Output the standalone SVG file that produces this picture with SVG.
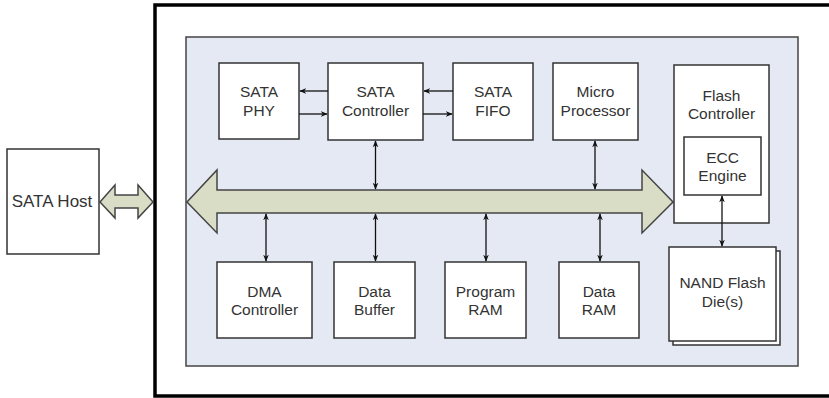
<svg xmlns="http://www.w3.org/2000/svg" width="829" height="398" viewBox="0 0 829 398">
<defs>
<marker id="ah" viewBox="0 0 10 10" refX="9" refY="5" markerWidth="7" markerHeight="7" orient="auto-start-reverse" markerUnits="userSpaceOnUse">
<path d="M0,1 L10,5 L0,9 L3,5 Z" fill="#111"/>
</marker>
</defs>
<style>
.box{fill:#fff;stroke:#333;stroke-width:1.5}
.t{font-family:"Liberation Sans",Arial,sans-serif;font-size:15.5px;fill:#333;text-anchor:middle}
.c{stroke:#111;stroke-width:1.3;fill:none;marker-end:url(#ah)}
.cc{stroke:#111;stroke-width:1.3;fill:none;marker-start:url(#ah);marker-end:url(#ah)}
.bus{fill:#d9ddc6;stroke:#444;stroke-width:1.5;stroke-linejoin:miter}
</style>
<rect width="829" height="398" fill="#fff"/>
<rect id="outer" x="155" y="5" width="690" height="391" fill="#fff" stroke="#000" stroke-width="3.5"/>
<rect id="panel" x="186" y="37" width="612" height="329" fill="#e4e9f4" stroke="#444" stroke-width="1.5"/>
<g id="sata-host"><rect class="box" x="7" y="149" width="92" height="105" stroke="#000" stroke-width="2.5"/><text class="t" x="52" y="207" style="font-size:17px">SATA Host</text></g>
<g id="host-link"><path class="bus" d="M100,202 L115,185 L115,195 L138,195 L138,185 L153,202 L138,218 L138,208 L115,208 L115,218 Z"/></g>
<g id="bus"><path class="bus" d="M187,202 L217,170 L217,190 L642,190 L642,170 L673,202 L642,233 L642,213 L217,213 L217,233 Z"/></g>
<g id="sata-phy"><rect class="box" x="219" y="63" width="80" height="76"/><text class="t" x="259" y="97">SATA</text><text class="t" x="259" y="116">PHY</text></g>
<g id="sata-controller"><rect class="box" x="328" y="63" width="95" height="77"/><text class="t" x="375.5" y="97">SATA</text><text class="t" x="375.5" y="116">Controller</text></g>
<g id="sata-fifo"><rect class="box" x="453" y="63" width="80" height="77"/><text class="t" x="493" y="97">SATA</text><text class="t" x="493" y="116">FIFO</text></g>
<g id="micro-processor"><rect class="box" x="553" y="63" width="85" height="77"/><text class="t" x="595.5" y="97">Micro</text><text class="t" x="595.5" y="116">Processor</text></g>
<g id="flash-controller"><rect class="box" x="674" y="65" width="95" height="158"/><text class="t" x="721.5" y="101">Flash</text><text class="t" x="721.5" y="119">Controller</text></g>
<g id="ecc-engine"><rect class="box" x="684" y="137" width="77" height="58"/><text class="t" x="722.5" y="163">ECC</text><text class="t" x="722.5" y="181">Engine</text></g>
<g id="nand-flash"><rect class="box" x="673" y="251" width="107" height="94"/><rect class="box" x="669" y="247" width="107" height="94"/><text class="t" x="722.5" y="288">NAND Flash</text><text class="t" x="722.5" y="307">Die(s)</text></g>
<g id="dma-controller"><rect class="box" x="217" y="262" width="95" height="76"/><text class="t" x="264.5" y="297">DMA</text><text class="t" x="264.5" y="315">Controller</text></g>
<g id="data-buffer"><rect class="box" x="334" y="262" width="81" height="76"/><text class="t" x="374.5" y="297">Data</text><text class="t" x="374.5" y="315">Buffer</text></g>
<g id="program-ram"><rect class="box" x="445" y="262" width="81" height="76"/><text class="t" x="485.5" y="297">Program</text><text class="t" x="485.5" y="315">RAM</text></g>
<g id="data-ram"><rect class="box" x="559" y="262" width="80" height="76"/><text class="t" x="599" y="297">Data</text><text class="t" x="599" y="315">RAM</text></g>
<g id="connectors">
<line class="c" x1="328" y1="91" x2="300" y2="91"/>
<line class="c" x1="299" y1="114" x2="327" y2="114"/>
<line class="c" x1="453" y1="91" x2="424" y2="91"/>
<line class="c" x1="423" y1="114" x2="452" y2="114"/>
<line class="cc" x1="375.5" y1="141" x2="375.5" y2="189"/>
<line class="cc" x1="595" y1="141" x2="595" y2="189"/>
<line class="cc" x1="266" y1="214" x2="266" y2="261"/>
<line class="cc" x1="375.5" y1="214" x2="375.5" y2="261"/>
<line class="cc" x1="486" y1="214" x2="486" y2="261"/>
<line class="cc" x1="600" y1="214" x2="600" y2="261"/>
<line class="cc" x1="722" y1="196" x2="722" y2="246"/>
</g>
</svg>
